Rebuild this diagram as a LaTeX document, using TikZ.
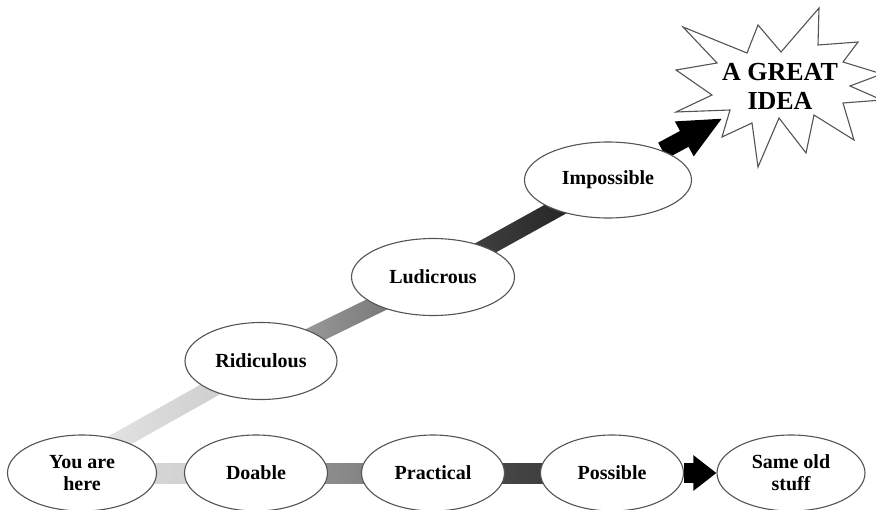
\documentclass[tikz,border=0pt]{standalone}
\usepackage{fontspec}
\setmainfont{Liberation Serif}
\usetikzlibrary{shapes.geometric, arrows.meta, calc, backgrounds}

\definecolor{rim}{gray}{0.33}

% a flat band between two points, shaded left to right
\newcommand\linkbar[5][9pt]{%
  \shade[left color=#4, right color=#5]
    ($(#2)!#1!90:(#3)$) -- ($(#3)!#1!-90:(#2)$)
    -- ($(#3)!#1!90:(#2)$) -- ($(#2)!#1!-90:(#3)$) -- cycle;}

\begin{document}
\begin{tikzpicture}[x=1pt, y=-1pt,
  stage/.style={ellipse, draw=rim, line width=1.1pt, fill=white,
    minimum width=143pt, minimum height=76pt, inner sep=0pt,
    align=center, font=\bfseries\fontsize{20}{22}\selectfont},
  push/.style={line width=#1, draw=black}]
  \useasboundingbox (0,0) rectangle (876,509);

  % the plain road
  \node[stage, minimum width=149pt] (you) at (82,473) {You are\\here};
  \node[stage] (doable) at (256,473) {Doable};
  \node[stage] (practical) at (433,473) {Practical};
  \node[stage] (possible) at (612,473) {Possible};
  \node[stage, minimum width=148pt] (same) at (791,473) {Same old\\stuff};

  % the road up
  \node[stage, minimum width=152pt, minimum height=77pt] (ridiculous) at (261,361) {Ridiculous};
  \node[stage, minimum width=163pt, minimum height=77pt] (ludicrous) at (433,277) {Ludicrous};
  \node[stage, minimum width=167pt] (impossible) at (608,180) {Impossible};

  \coordinate (youexit) at (90,457);
  \coordinate (ideatip) at (723,118);

  \begin{scope}[on background layer]
    \linkbar[10pt]{you.center}{doable.center}{black!15}{black!19}
    \linkbar[10pt]{doable.center}{practical.center}{black!38}{black!55}
    \linkbar[10pt]{practical.center}{possible.center}{black!68}{black!80}
    \draw[push=20pt, -{Triangle[length=23pt, width=34pt]}] (possible) -- (same);

    \linkbar{youexit}{ridiculous.center}{black!10}{black!22}
    \linkbar{ridiculous.center}{ludicrous.center}{black!33}{black!60}
    \linkbar{ludicrous.center}{impossible.center}{black!70}{black!90}
    \draw[push=18pt, -{Triangle[length=44pt, width=36pt]}] (impossible) -- (ideatip);
  \end{scope}

  % the burst
  \draw[rim, line width=1.1pt, fill=white, line join=miter]
    (683,27) -- (747,53) -- (758,25) -- (781,52) -- (819,8) -- (818,45)
    -- (858,42) -- (843,62) -- (882,74) -- (850,86) -- (882,100) -- (843,103)
    -- (854,140) -- (814,115) -- (806,153) -- (779,118) -- (758,167) -- (752,123)
    -- (722,137) -- (730,110) -- (676,112) -- (712,95) -- (676,70) -- (717,63) -- cycle;
  \node[align=center, inner sep=0pt, font=\bfseries\fontsize{26}{29}\selectfont]
    (idea) at (780,86) {A GREAT\\IDEA};
\end{tikzpicture}
\end{document}
